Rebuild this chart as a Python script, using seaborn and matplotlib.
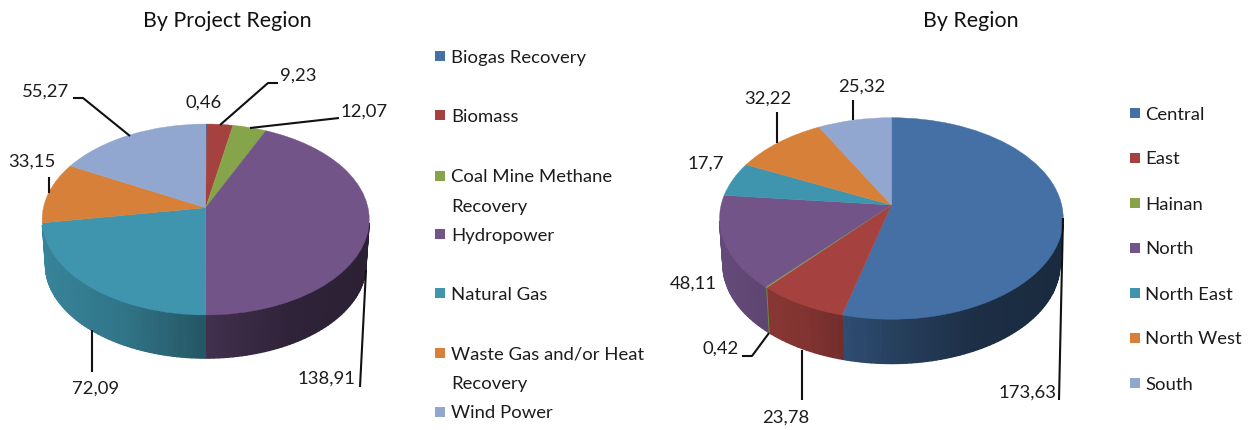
import numpy as np
import matplotlib
matplotlib.use('Agg')
import matplotlib.pyplot as plt
import seaborn as sns
from matplotlib.transforms import Transform

# data
project_labels = ['Biogas Recovery', 'Biomass', 'Coal Mine Methane\nRecovery', 'Hydropower',
                  'Natural Gas', 'Waste Gas and/or Heat\nRecovery', 'Wind Power']
project_values = [0.46, 9.23, 12.07, 138.91, 72.09, 33.15, 55.27]

region_labels = ['Central', 'East', 'Hainan', 'North', 'North East', 'North West', 'South']
region_values = [173.63, 23.78, 0.42, 48.11, 17.7, 32.22, 25.32]

slice_colors = ['#4470a5', '#a5423f', '#86a44a', '#725489', '#3f95ae', '#d7803a', '#91a7cf']

sns.set_theme(style='white')
plt.rcParams['font.family'] = ['Lato', 'DejaVu Sans']
TEXT = '#1c1c1c'
FS = 13.3
TITLE_FS = 15.4


class TiltTransform(Transform):
    # unit pie -> tilted disc in figure pixels, near edge looks bigger
    input_dims = 2
    output_dims = 2

    def __init__(self, cx, cy, sx, sy, p):
        super().__init__()
        self.cx, self.cy, self.sx, self.sy, self.p = cx, cy, sx, sy, p

    def transform_non_affine(self, values):
        v = np.asarray(values, dtype=float)
        w = 1 + self.p * v[:, 1]
        return np.column_stack([self.cx + self.sx * v[:, 0] / w,
                                self.cy - self.sy * v[:, 1] / w])


def shade(color, x):
    # wall gets darker from left to right
    f = np.interp(x, [-1, -0.5, -0.3, 0, 0.5, 1], [0.88, 0.78, 0.70, 0.58, 0.42, 0.38])
    return tuple(np.array(matplotlib.colors.to_rgb(color)) * f)


def tilted_pie(ax, values, cx, cy, sx, sy, p, depth):
    tilt = TiltTransform(cx, cy, sx, sy, p)
    shares = np.cumsum([0] + list(values)) / sum(values) * 2 * np.pi

    # side wall first, strip by strip, only the part facing us
    for i, col in enumerate(slice_colors):
        a = np.arange(shares[i], shares[i + 1], np.radians(1.5))
        a = np.append(a, shares[i + 1])
        top = tilt.transform_non_affine(np.column_stack([np.sin(a), np.cos(a)]))
        low = np.column_stack([cx + (top[:, 0] - cx) * 0.98, cy + (top[:, 1] - cy) * 0.98 + depth])
        for j in range(len(a) - 1):
            if np.cos(a[j]) > -0.16 or np.cos(a[j + 1]) > -0.16:
                continue
            c = shade(col, (top[j, 0] - cx) / sx)
            ax.fill([top[j, 0], top[j + 1, 0], low[j + 1, 0], low[j, 0]],
                    [top[j, 1], top[j + 1, 1], low[j + 1, 1], low[j, 1]],
                    color=c, lw=1.0, zorder=1)

    wedges, _ = ax.pie(values, colors=slice_colors, startangle=90, counterclock=False,
                       wedgeprops=dict(linewidth=0.3))
    for w in wedges:
        w.set_edgecolor(w.get_facecolor())
        w.set_transform(tilt + ax.transData)
        w.set_zorder(2)


def fmt(v):
    return f'{v:g}'.replace('.', ',')


def leader(ax, xs, ys):
    ax.plot(xs, ys, color='#111111', lw=1.5, zorder=3, solid_capstyle='butt')


def legend_rows(ax, labels, rows, x_box, x_text):
    for lab, y, col in zip(labels, rows, slice_colors):
        ax.scatter([x_box], [y], marker='s', s=60, color=col, linewidths=0, zorder=3)
        for k, line in enumerate(lab.split('\n')):
            ax.text(x_text, y + 1.5 + k * 29.5, line, ha='left', va='center', fontsize=FS, color=TEXT)


fig = plt.figure(figsize=(12.51, 4.30), dpi=100, facecolor='white')
ax = fig.add_axes([0, 0, 1, 1])

tilted_pie(ax, project_values, 205.7, 207.7, 162.3, 94.0, 0.1236, 45.3)
tilted_pie(ax, region_values, 891.4, 205.0, 170.3, 99.0, 0.134, 46.5)

ax.set_aspect('auto')
ax.set_xlim(0, 1251)
ax.set_ylim(430, 0)
ax.axis('off')

ax.text(227.5, 21, 'By Project Region', ha='center', va='center', fontsize=TITLE_FS, color='#111111')
ax.text(971, 21, 'By Region', ha='center', va='center', fontsize=TITLE_FS, color='#111111')

# value labels
project_pos = [(204, 103), (298, 76), (364, 112), (327, 379), (96, 389), (32, 162), (46, 92)]
region_pos = [(1028, 393), (786, 418), (721, 349), (693, 284), (706, 164), (768, 99), (862, 87)]
for vals, pos in ((project_values, project_pos), (region_values, region_pos)):
    for v, (x, y) in zip(vals, pos):
        ax.text(x, y, fmt(v), ha='center', va='center', fontsize=FS, color=TEXT, zorder=4)

# leader lines
leader(ax, [278, 268, 220], [83, 83, 125])
leader(ax, [339, 250], [118, 128])
leader(ax, [73, 83, 130], [98, 98, 136])
leader(ax, [49, 49], [177, 193])
leader(ax, [92, 92], [372, 330])
leader(ax, [360, 366], [387, 270])
leader(ax, [853, 853], [100, 120])
leader(ax, [777, 777], [112, 143])
leader(ax, [742, 752, 769], [356, 356, 333])
leader(ax, [802, 802], [400, 350])
leader(ax, [1059, 1063], [400, 218])

legend_rows(ax, project_labels, [56, 115, 176, 234, 293, 353, 412], 440, 451)
legend_rows(ax, region_labels, [113, 158, 203, 248, 293, 338, 383], 1134.5, 1145)

fig.savefig('out.png', dpi=100)
